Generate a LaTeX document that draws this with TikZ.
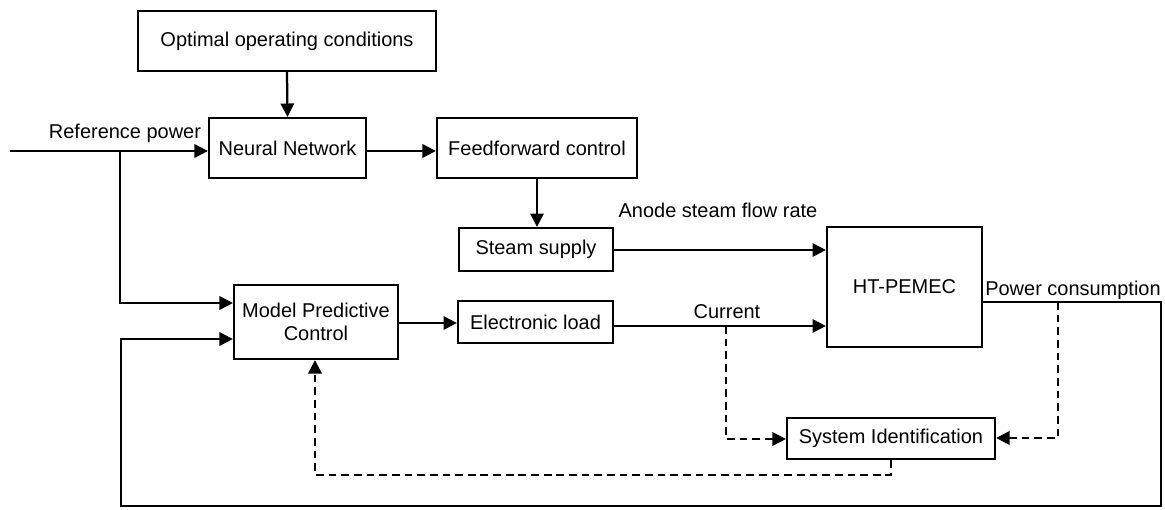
\documentclass[tikz,border=0pt]{standalone}
\usepackage{fontspec}
\setmainfont{Liberation Sans}
\usetikzlibrary{arrows.meta,calc}
\begin{document}
\begin{tikzpicture}[x=0.025cm,y=-0.025cm,
  font=\fontsize{14.2}{16.5}\selectfont,
  blk/.style={draw,line width=1.6pt,inner sep=0pt,align=center},
  conn/.style={line width=1.6pt,-{Triangle[length=9.5pt,width=9.5pt]}},
  plain/.style={line width=1.6pt},
  dconn/.style={conn,dash pattern=on 5.5pt off 3.5pt},
  dplain/.style={plain,dash pattern=on 5.5pt off 3.5pt}]
\useasboundingbox (0,0) rectangle (1165,509);
% blocks
\node[blk,minimum width=7.45cm,minimum height=1.5cm] (opt) at (287,41) {Optimal operating conditions};
\node[blk,minimum width=3.925cm,minimum height=1.5cm] (nn) at (287.5,148) {Neural Network};
\node[blk,minimum width=5cm,minimum height=1.5cm] (ff) at (537,148) {Feedforward control};
\node[blk,minimum width=3.85cm,minimum height=1.075cm] (steam) at (536,249.5) {Steam supply};
\node[blk,minimum width=3.875cm,minimum height=3cm] (ht) at (904.5,287) {HT-PEMEC};
\node[blk,minimum width=4.1cm,minimum height=1.85cm] (mpc) at (316,322) {Model Predictive\\Control};
\node[blk,minimum width=3.875cm,minimum height=1.05cm] (el) at (535.5,322) {Electronic load};
\node[blk,minimum width=5.2cm,minimum height=1.025cm] (si) at (891,438.5) {System Identification};
% labels
\node (lref) at (125,133) {Reference power};
\node (lanode) at (718,210) {Anode steam flow rate};
\node (lcur) at (727,312) {Current};
\node (lpow) at (1073,290) {Power consumption};
% coordinates
\coordinate (in) at (10,151);
\coordinate (br) at (120,151);
\coordinate (out) at (ht.east |- 0,302);
\coordinate (rc) at (1161,302);
\coordinate (cur) at (726,326);
\coordinate (pw) at (1058,302);
% connectors
\draw[conn] (opt.south) -- (nn.north);
\draw[conn] (in) -- (in -| nn.west);
\draw[conn] (br) -- (120,303) -- (mpc.west |- 0,303);
\draw[conn] (nn.east |- 0,151) -- (ff.west |- 0,151);
\draw[conn] (ff.south -| 537,0) -- (steam.north -| 537,0);
\draw[conn] (steam.east |- 0,250) -- (ht.west |- 0,250);
\draw[conn] (mpc.east |- 0,323) -- (el.west |- 0,323);
\draw[conn] (el.east |- 0,326) -- (ht.west |- 0,326);
\draw[conn] (out) -- (rc) -- (1161,506) -- (121,506) -- (121,339) -- (mpc.west |- 0,339);
\draw[dconn] (pw) -- (1058,438) -- (si.east |- 0,438);
\draw[dconn] (cur) -- (726,439) -- (si.west |- 0,439);
\draw[dconn] (si.south -| 891,0) -- (891,475) -- (315,475) -- (mpc.south -| 315,0);
\end{tikzpicture}
\end{document}
